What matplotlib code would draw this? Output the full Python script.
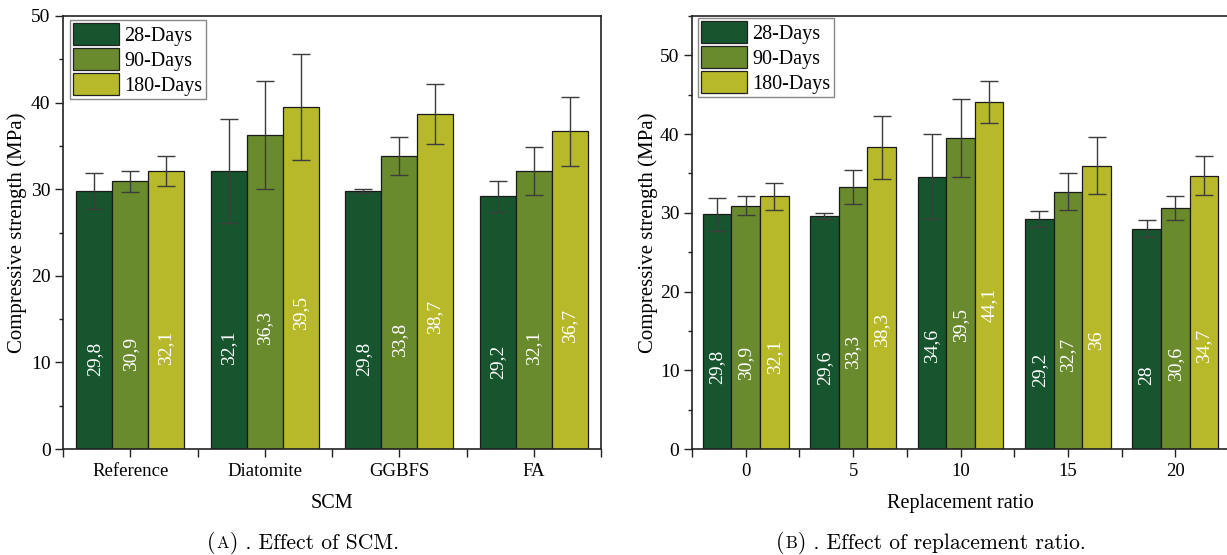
import numpy as np
import matplotlib
matplotlib.use("Agg")
import matplotlib.pyplot as plt
from matplotlib.patches import Patch
from matplotlib.ticker import MultipleLocator, FixedLocator
from matplotlib.offsetbox import TextArea, HPacker, AnchoredOffsetbox

## Data

series = ["28-Days", "90-Days", "180-Days"]
colors = ["#16552d", "#6a8a2e", "#b7b92a"]

# (A) effect of SCM
scm_cats = ["Reference", "Diatomite", "GGBFS", "FA"]
scm_28 = [29.8, 32.1, 29.8, 29.2]
scm_90 = [30.9, 36.3, 33.8, 32.1]
scm_180 = [32.1, 39.5, 38.7, 36.7]
scm_err_28 = [2.1, 5.95, 0.25, 1.8]
scm_err_90 = [1.2, 6.25, 2.2, 2.8]
scm_err_180 = [1.7, 6.15, 3.5, 4.0]

# (B) effect of replacement ratio
ratio_cats = ["0", "5", "10", "15", "20"]
ratio_28 = [29.8, 29.6, 34.6, 29.2, 28]
ratio_90 = [30.9, 33.3, 39.5, 32.7, 30.6]
ratio_180 = [32.1, 38.3, 44.1, 36, 34.7]
ratio_err_28 = [2.1, 0.4, 5.35, 1.0, 1.1]
ratio_err_90 = [1.2, 2.2, 4.9, 2.4, 1.55]
ratio_err_180 = [1.7, 3.95, 2.7, 3.6, 2.5]

W, H = 1227, 555
SERIF = "Liberation Serif"


def fmt(v):
    return ("%g" % v).replace(".", ",")


def draw_panel(ax, cats, vals, errs, ymax, xlabel, ylab_x):
    n = len(cats)
    x = np.arange(n)
    bw = 0.8 / 3
    for i, (v, e) in enumerate(zip(vals, errs)):
        xs = x + (i - 1) * bw
        ax.bar(xs, v, width=bw, color=colors[i], edgecolor="#1a1a1a",
               linewidth=0.9, zorder=2)
        ax.errorbar(xs, v, yerr=e, fmt="none", ecolor="#3c3c3c",
                    elinewidth=1.0, capsize=6.5, capthick=1.0, zorder=3)
        for xx, vv in zip(xs, v):
            ax.text(xx, 0.55 * vv - 6.0, fmt(vv), rotation=90, color="white",
                    ha="center", va="center", fontsize=14, family=SERIF,
                    zorder=4)

    ax.set_xlim(-0.5, n - 0.5)
    ax.set_ylim(0, ymax)
    ax.set_xticks(x)
    ax.set_xticklabels(cats, family=SERIF, fontsize=13.5)
    ax.xaxis.set_minor_locator(FixedLocator(np.arange(n + 1) - 0.5))
    ax.yaxis.set_major_locator(MultipleLocator(10))
    ax.yaxis.set_minor_locator(MultipleLocator(5))
    for lab in ax.get_yticklabels():
        lab.set_family(SERIF)
        lab.set_fontsize(14)
    ax.tick_params(axis="x", which="both", direction="out", length=6,
                   width=1, color="#222222", pad=4)
    ax.tick_params(axis="y", which="major", direction="out", length=6,
                   width=1, color="#222222", pad=3)
    ax.tick_params(axis="y", which="minor", direction="out", length=3,
                   width=1, color="#222222")
    for sp in ax.spines.values():
        sp.set_linewidth(1.2)
        sp.set_color("#222222")

    ax.set_ylabel("Compressive strength (MPa)", family=SERIF, fontsize=15)
    ax.yaxis.set_label_coords(ylab_x, 0.5)
    ax.set_xlabel(xlabel, family=SERIF, fontsize=14.5)
    ax.xaxis.set_label_coords(0.5, -0.104)
    ax.xaxis.label.set_va("top")


def add_legend(fig, ax, x_px, y_px):
    handles = [Patch(facecolor=c, edgecolor="#222222", linewidth=0.9) for c in colors]
    leg = ax.legend(handles, series, loc="upper left",
                    bbox_to_anchor=(x_px / W, 1 - y_px / H),
                    bbox_transform=fig.transFigure, borderaxespad=0,
                    prop={"family": SERIF, "size": 14.5},
                    handlelength=2.3, handleheight=1.3, handletextpad=0.25,
                    labelspacing=0.12, borderpad=0.15, fancybox=False,
                    framealpha=1, edgecolor="#888888")
    leg.get_frame().set_linewidth(1.0)


def add_caption(fig, letter, rest, cx_px, cy_px):
    p1 = TextArea("(", textprops=dict(family="cmr10", size=15.5))
    p2 = TextArea(letter, textprops=dict(family="cmr10", size=12))
    p3 = TextArea(") . " + rest, textprops=dict(family="cmr10", size=15.5))
    box = HPacker(children=[p1, p2, p3], align="baseline", pad=0, sep=0.5)
    ab = AnchoredOffsetbox(loc="center", child=box, pad=0, borderpad=0,
                           frameon=False, bbox_to_anchor=(cx_px / W, 1 - cy_px / H),
                           bbox_transform=fig.transFigure)
    fig.add_artist(ab)


## Main

fig = plt.figure(figsize=(W / 100, H / 100), dpi=100)

axA = fig.add_axes([63 / W, (H - 449) / H, (601 - 63) / W, 433 / H])
draw_panel(axA, scm_cats, [scm_28, scm_90, scm_180],
           [scm_err_28, scm_err_90, scm_err_180], 50, "SCM", -0.067)
add_legend(fig, axA, 70, 20)

axB = fig.add_axes([692 / W, (H - 449) / H, (1229 - 692) / W, 433 / H])
draw_panel(axB, ratio_cats, [ratio_28, ratio_90, ratio_180],
           [ratio_err_28, ratio_err_90, ratio_err_180], 55, "Replacement ratio", -0.063)
add_legend(fig, axB, 698, 18)

add_caption(fig, "A", "Effect of SCM.", 303, 543)
add_caption(fig, "B", "Effect of replacement ratio.", 931, 543)

fig.savefig("out.png", dpi=100)
